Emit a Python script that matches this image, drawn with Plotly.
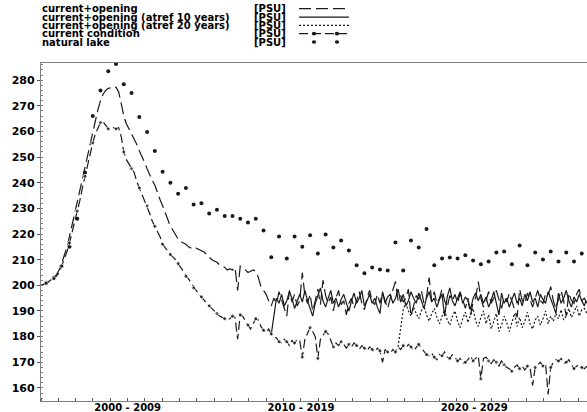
import numpy as np
import plotly.graph_objects as go

# ---------------- data ----------------
T0 = 2000.0
STEP = 0.1493          # sampling step of the simulated series (years)

current_opening = [
    200, 200.3, 200.8, 201.5, 202.2, 203, 204.2, 206, 208.5, 211.5,
    215, 219, 223.5, 228, 232, 236.5, 241, 246, 251, 255.5,
    260, 264.5, 268.5, 272, 274.5, 276, 276.8, 277, 277.5, 277.2,
    275.5, 271, 266, 263, 261, 259, 257.5, 255, 252.5, 250.5,
    248, 245.5, 243, 241, 239, 236, 233.5, 231, 228.5, 226,
    223, 221.5, 219.5, 218, 217, 216.5, 216, 215, 214.5, 214,
    214.5, 214, 213.5, 213, 212, 211, 210, 209.5, 209, 208,
    207.5, 207, 206, 206.5, 206, 207, 198, 207.5, 207, 206,
    205, 205.5, 206, 205.5, 203, 199.5, 198, 196.5, 194, 192,
    195, 193, 197.5, 194, 191.5, 188, 198, 193.5, 196.5, 192,
    194, 205, 196, 193, 196.5, 190, 194, 198.5, 192.5, 202,
    196, 193, 195.5, 190, 195, 198, 192.5, 194, 188.5, 193,
    195, 191, 194, 197.5, 193, 190.5, 195, 198, 194, 192.5,
    196.5, 193, 197, 194, 191, 195, 198, 201.5, 194, 196,
    193.5, 195, 198.5, 188, 192, 196, 194.5, 198, 193, 195.5,
    203, 194, 197.5, 193, 195, 198.5, 194, 191.5, 196, 194,
    196.5, 193, 197, 194.5, 191, 195, 188.5, 193.5, 195, 201.5,
    195, 191.5, 194, 197.5, 193, 195, 198, 194, 191, 195.5,
    193.5, 197, 194, 191, 187.5, 198.5, 194, 193, 197, 194.5,
    191.5, 195, 198, 194, 193, 196.5, 196, 199.5, 194, 191,
    195, 198, 194, 188, 197, 194, 193, 196.5, 198.5, 194,
    192, 195,
]

current_condition = [
    200, 200.3, 200.8, 201.3, 202, 202.6, 203.6, 205, 207.5, 210,
    213, 216.5, 220.5, 224.5, 229, 233, 238, 242.5, 247, 251.5,
    255.5, 259, 261.5, 263.5, 263.8, 262.5, 261, 261.2, 261.5, 261,
    261.5, 258, 252, 249, 247.5, 245.5, 244, 240.5, 238, 236,
    233, 231, 228, 225, 223, 221.5, 219, 216, 214.5, 213,
    212, 211, 210, 208.5, 207, 205, 203.5, 202, 200.5, 199,
    197.5, 196.5, 195.5, 194, 193, 192, 191, 190, 189, 188,
    187.5, 187, 186.5, 187, 188, 187.5, 179, 188.5, 188, 186,
    184.5, 183, 185, 187, 186.5, 184, 182.5, 181.5, 183, 181,
    180, 179.5, 178, 177.5, 179, 178, 176.5, 178.5, 177.5, 179,
    178.5, 172, 179, 181, 183.5, 182, 180, 171.5, 179, 180.5,
    182, 181, 178.5, 176, 177.5, 176.5, 178, 177, 175.5, 177,
    176, 177.5, 176.5, 175, 176.5, 175.5, 174.5, 176, 175, 174,
    175.5, 174.5, 170, 175, 174, 173.5, 175, 174, 176, 175,
    176.5, 175.5, 177, 176, 174.5, 176, 177, 175.5, 174, 173,
    172.5, 173.5, 172, 171, 173, 172.5, 174, 172, 171.5, 173,
    172, 170.5, 171.5, 169.5, 170, 171, 172.5, 170.5, 171.5, 172.5,
    163.5, 171.5, 172, 170.5, 169.5, 171, 170, 168.5, 170.5, 169,
    168, 167.5, 166.5, 168, 169, 167.5, 168.5, 167, 168.5, 168,
    161, 168, 169, 170, 168.5, 169.5, 157.5, 168, 170, 171,
    170.5, 171.5, 169.5, 170, 171, 169, 167.5, 168.5, 169, 168,
    167.5, 168.5,
]

# opening after 10 years: series starts at sample 89
ATREF10_START = 89
atref10 = [
    181, 188, 195,
    193, 196.5, 192, 194, 197.5, 195, 191, 194,
    196.5, 193.5, 198, 194, 190.5, 188, 193, 196.5, 199, 194,
    191.5, 195, 198, 193, 195, 191.5, 194.5, 196.5, 193.5, 190,
    194, 197, 193, 195, 198, 192, 194, 196.5, 193, 195,
    191.5, 189, 197.5, 193, 195.5, 196.5, 193, 195, 198.5, 193.5,
    196.5, 192, 194, 197.5, 195, 193, 197, 194, 191, 195,
    197.5, 193.5, 195, 191.5, 194.5, 196.5, 188, 195.5, 199, 194,
    192, 195, 197.5, 193, 195.5, 194, 190.5, 195, 197, 194,
    196.5, 193, 195.5, 191.5, 194, 197.5, 193.5, 188.5, 197, 193,
    195, 191.5, 194.5, 197, 193, 195, 192, 196.5, 194, 197.5,
    193.5, 195, 191.5, 196.5, 194.5, 193, 197.5, 195, 192, 189,
    197, 193, 195, 198, 194, 191.5, 195.5, 193.5, 196.5, 194,
    195, 193,
]

# opening after 20 years: series starts at sample 138
ATREF20_START = 138
atref20 = [
    176, 184, 190.5,
    193, 190, 188, 191.5, 189, 187, 190, 192, 188.5,
    186, 189, 191, 187.5, 185, 188, 190.5, 186.5, 184.5, 188,
    190, 186, 183.5, 187, 189.5, 185.5, 188, 191, 186, 184,
    187.5, 190, 185, 188.5, 183, 186.5, 189, 182, 184.5, 188,
    185.5, 182, 186, 189, 184, 187.5, 183.5, 186, 189.5, 185,
    183, 186.5, 188, 184.5, 187, 190, 185, 188, 186, 189,
    187, 190.5, 186.5, 188, 191, 187.5, 189.5, 192, 188, 190.5,
    191, 189,
]

# natural lake: plotted every third sample, starting at sample 2
natural_lake = [
    201, 203, 207.5, 215, 226, 244, 266, 276, 283.5, 286.3,
    278.4, 275, 265.6, 259.8, 252.4, 244.3, 240, 235.7, 238, 231.5,
    232, 228, 229.5, 227, 227, 226, 224.5, 226, 221.4, 211,
    219, 210.5, 219, 215, 219.5, 212.4, 219.8, 214.8, 217.5, 213.6,
    207.8, 204.7, 207, 206.2, 205.8, 216.7, 205.8, 217.5, 214.8, 222,
    207.8, 210.5, 210.9, 210.5, 211.7, 209.7, 208.2, 209.3, 212.8, 213.2,
    208.2, 215.5, 207.8, 212.8, 210.1, 213.2, 209.3, 212.8, 209.3, 212.4,
]

legend_names = [
    "current+opening",
    "current+opening (atref 10 years)",
    "current+opening (atref 20 years)",
    "current condition",
    "natural lake",
]
unit_label = "[PSU]"

y_ticks = [160, 170, 180, 190, 200, 210, 220, 230, 240, 250, 260, 270, 280]
decade_starts = [2000, 2010, 2020, 2030]
decade_labels = ["2000 - 2009", "2010 - 2019", "2020 - 2029"]

# ---------------- derived time axes ----------------
t = T0 + STEP * np.arange(len(current_condition))
t_a10 = t[ATREF10_START:ATREF10_START + len(atref10)]
t_a20 = t[ATREF20_START:ATREF20_START + len(atref20)]
t_nat = t[2::3][:len(natural_lake)]
cc_marker_size = [4 if j % 3 == 2 else 0 for j in range(len(current_condition))]

# ---------------- styling ----------------
W, H = 587, 412
PL, PR, PT, PB = 41, 587, 63, 401.5
FONT = "DejaVu Sans"
INK = "#1a1a1a"
LW = 1.2

def pxx(x):
    return (x - PL) / (PR - PL)

def pyy(y):
    return (PB - y) / (PB - PT)

styles = [
    dict(color=INK, width=LW, dash="12px,5px"),
    dict(color=INK, width=LW, dash="solid"),
    dict(color=INK, width=LW, dash="2px,2px"),
    dict(color=INK, width=LW, dash="9px,4px"),
]

fig = go.Figure()
fig.add_trace(go.Scatter(x=t_nat, y=natural_lake, mode="markers",
                         marker=dict(color=INK, size=4, symbol="circle"),
                         name=legend_names[4], showlegend=False))
fig.add_trace(go.Scatter(x=t, y=current_opening, mode="lines", line=styles[0],
                         name=legend_names[0], showlegend=False))
fig.add_trace(go.Scatter(x=t_a10, y=atref10, mode="lines", line=styles[1],
                         name=legend_names[1], showlegend=False))
fig.add_trace(go.Scatter(x=t_a20, y=atref20, mode="lines", line=styles[2],
                         name=legend_names[2], showlegend=False))
fig.add_trace(go.Scatter(x=t, y=current_condition, mode="lines+markers", line=styles[3],
                         marker=dict(color=INK, size=cc_marker_size, symbol="circle"),
                         name=legend_names[3], showlegend=False))

# ---------------- hand-built legend ----------------
rows_y = [8.5, 17, 25.3, 33.6, 42]
annotations = []
shapes = []
for i, name in enumerate(legend_names):
    yy = pyy(rows_y[i])
    annotations.append(dict(x=pxx(41), y=yy, xref="paper", yref="paper", text=name,
                            showarrow=False, xanchor="left", yanchor="middle", borderpad=0,
                            font=dict(family=FONT, size=10, color="black", weight="bold")))
    annotations.append(dict(x=pxx(253), y=yy, xref="paper", yref="paper", text=unit_label,
                            showarrow=False, xanchor="left", yanchor="middle", borderpad=0,
                            font=dict(family=FONT, size=10, color="black", weight="bold")))
    if i < 4:
        shapes.append(dict(type="line", xref="paper", yref="paper",
                           x0=pxx(299), x1=pxx(349), y0=yy, y1=yy, line=styles[i]))
    if i >= 3:
        for mx in (314, 337):
            shapes.append(dict(type="circle", xref="paper", yref="paper",
                               x0=pxx(mx - 2.2), x1=pxx(mx + 2.2),
                               y0=pyy(rows_y[i] + 1.8), y1=pyy(rows_y[i] - 1.8),
                               fillcolor=INK, line=dict(width=0)))

tickfont = dict(family=FONT, size=11, color="black", weight="bold")
xtickfont = dict(family=FONT, size=10, color="black", weight="bold")
mids = [(decade_starts[k] + decade_starts[k + 1]) / 2 for k in range(len(decade_labels))]
x_range = [2000, 2000 + (PR - PL) / 17.33]

fig.update_layout(
    width=W, height=H,
    margin=dict(l=PL, r=W - PR, t=PT, b=H - PB),
    paper_bgcolor="white", plot_bgcolor="white",
    showlegend=False,
    annotations=annotations,
    shapes=shapes,
    xaxis=dict(range=x_range, showgrid=False, zeroline=False, automargin=False,
               showline=True, linecolor="#808080", linewidth=1.3, mirror=True,
               tickmode="array", tickvals=mids, ticktext=decade_labels,
               ticks="", tickfont=xtickfont, ticklabelstandoff=-3,
               minor=dict(tickmode="array", tickvals=list(range(2000, 2032)),
                          ticks="inside", ticklen=3, tickcolor="#555", showgrid=False)),
    xaxis2=dict(range=x_range, overlaying="x", anchor="y", side="bottom",
                showgrid=False, zeroline=False, showline=False, automargin=False,
                tickmode="array", tickvals=decade_starts, ticks="outside",
                ticklen=4, tickcolor="#555", showticklabels=False),
    yaxis=dict(range=[154.9, 286.7], showgrid=False, zeroline=False, automargin=False,
               showline=True, linecolor="#808080", linewidth=1.3,
               tickmode="array", tickvals=y_ticks, ticks="outside", ticklen=3,
               tickcolor="#555", tickfont=tickfont,
               minor=dict(dtick=2, ticks="inside", ticklen=2, tickcolor="#777",
                          showgrid=False)),
)

fig.write_html("out.html", config={"displayModeBar": False},
               post_script="document.body.style.margin='0px';")
